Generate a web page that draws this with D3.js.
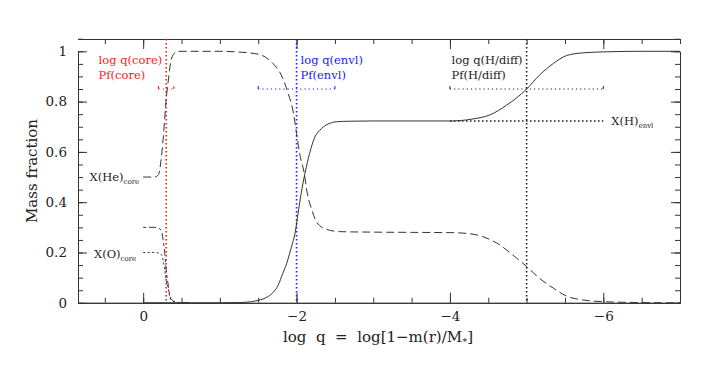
<!DOCTYPE html>
<html>
<head>
<meta charset="utf-8">
<script src="https://cdn.jsdelivr.net/npm/d3@7"></script>
<style>
  body { margin: 0; background: #fff; }
  svg text { font-family: "DejaVu Serif", serif; fill: #222; }
</style>
</head>
<body>
<div id="chart"></div>
<script>
// composition profiles (x = log q, y = mass fraction)
const hQ = [0, -1.0, -1.25, -1.4, -1.5, -1.6, -1.69, -1.76, -1.82, -1.87, -1.91, -1.95, -1.98, -2.02, -2.06, -2.11, -2.17, -2.24, -2.3, -2.35, -2.42, -2.52, -2.7, -3.0, -3.5, -4.0, -4.3, -4.52, -4.74, -5.0, -5.17, -5.35, -5.52, -5.74, -6.04, -6.5, -7.0];
const hX = [0, 0, 0.001, 0.004, 0.01, 0.02, 0.04, 0.07, 0.117, 0.155, 0.197, 0.24, 0.276, 0.356, 0.435, 0.515, 0.594, 0.66, 0.685, 0.70, 0.712, 0.72, 0.722, 0.723, 0.723, 0.723, 0.731, 0.747, 0.786, 0.85, 0.906, 0.952, 0.983, 0.994, 0.998, 1.0, 1.0];

const heQ = [0, -0.15, -0.2, -0.23, -0.26, -0.28, -0.3, -0.33, -0.36, -0.4, -0.45, -0.6, -1.0, -1.2, -1.4, -1.54, -1.69, -1.8, -1.89, -1.96, -2.0, -2.04, -2.1, -2.14, -2.2, -2.26, -2.39, -2.56, -3.0, -3.5, -4.0, -4.22, -4.43, -4.65, -4.82, -5.0, -5.17, -5.35, -5.52, -5.74, -6.04, -6.5, -7.0];
const heX = [0.5, 0.5, 0.51, 0.56, 0.65, 0.73, 0.81, 0.89, 0.96, 0.99, 1.0, 1.0, 1.0, 0.998, 0.993, 0.985, 0.952, 0.906, 0.833, 0.753, 0.674, 0.594, 0.515, 0.435, 0.369, 0.322, 0.292, 0.283, 0.281, 0.28, 0.279, 0.276, 0.263, 0.23, 0.19, 0.144, 0.097, 0.058, 0.027, 0.011, 0.004, 0.001, 0];

const cQ = [0, -0.15, -0.2, -0.24, -0.26, -0.28, -0.3, -0.33, -0.35, -0.39, -0.45, -0.6];
const cX = [0.3, 0.3, 0.297, 0.285, 0.25, 0.2, 0.13, 0.064, 0.024, 0.008, 0.001, 0];

const oQ = [0, -0.15, -0.2, -0.24, -0.26, -0.28, -0.3, -0.33, -0.35, -0.39, -0.45, -0.6];
const oX = [0.2, 0.2, 0.198, 0.19, 0.17, 0.13, 0.09, 0.05, 0.02, 0.006, 0.001, 0];

// transition markers: log q, profile value, half width of the Pf bar
const markerNames = ["core", "envl", "H/diff"];
const markerQ = [-0.3, -2.0, -5.0];
const markerPf = [0.85, 0.85, 0.85];
const markerHalf = [0.1, 0.5, 1.0];

const envlH = 0.723;
const coreHe = 0.5;
const coreO = 0.2;

const xTicks = [0, -2, -4, -6];
const yTicks = [0, 0.2, 0.4, 0.6, 0.8, 1];

const W = 718, H = 368;
const pLeft = 78, pRight = 680, pTop = 39, pBottom = 302.8;

const svg = d3.select("#chart").append("svg")
    .attr("width", W).attr("height", H);

const x = d3.scaleLinear().domain([0.85, -7]).range([pLeft, pRight]);
const y = d3.scaleLinear().domain([0, 1]).range([pBottom, pBottom - 251.5]);

const minorX = d3.range(0.5, -7.01, -0.5);
const minorY = d3.range(0, 1.06, 0.05);

function addAxis(gen, tr, vals, size, fmt, pad) {
    const g = svg.append("g").attr("transform", tr)
        .call(gen.tickValues(vals).tickSizeInner(-size).tickSizeOuter(0)
            .tickPadding(pad).tickFormat(fmt));
    g.selectAll("line").attr("stroke", "#333");
    g.select(".domain").attr("stroke", "#333");
    return g;
}

const none = () => "";
addAxis(d3.axisBottom(x), `translate(0,${pBottom})`, minorX, 5, none, 0);
addAxis(d3.axisTop(x), `translate(0,${pTop})`, minorX, 5, none, 0);
addAxis(d3.axisLeft(y), `translate(${pLeft},0)`, minorY, 5, none, 0);
addAxis(d3.axisRight(y), `translate(${pRight},0)`, minorY, 5, none, 0);

const xb = addAxis(d3.axisBottom(x), `translate(0,${pBottom})`, xTicks, 10, d3.format("d"), 9);
addAxis(d3.axisTop(x), `translate(0,${pTop})`, xTicks, 10, none, 0);
const yl = addAxis(d3.axisLeft(y), `translate(${pLeft},0)`, yTicks, 9,
    d => (d === 0 || d === 1) ? d3.format("d")(d) : d3.format(".1f")(d), 11);
addAxis(d3.axisRight(y), `translate(${pRight},0)`, yTicks, 9, none, 0);

[xb, yl].forEach(g => g.selectAll("text")
    .attr("fill", "#222").style("font-family", "DejaVu Serif").style("font-size", "13.5px"));

// markers
const markerColor = ["#ff1a1a", "#1a1aff", "#222"];
markerQ.forEach((q, i) => {
    svg.append("line")
        .attr("x1", x(q)).attr("x2", x(q))
        .attr("y1", pTop).attr("y2", pBottom)
        .attr("stroke", markerColor[i]).attr("stroke-width", 1.6)
        .attr("stroke-dasharray", "1.6,2.4");
    const x0 = x(q + markerHalf[i]), x1 = x(q - markerHalf[i]), yy = y(markerPf[i]);
    svg.append("line")
        .attr("x1", x0).attr("x2", x1).attr("y1", yy).attr("y2", yy)
        .attr("stroke", markerColor[i]).attr("stroke-width", 1)
        .attr("stroke-dasharray", "1.2,3");
    [x0, x1].forEach(xe => svg.append("line")
        .attr("x1", xe).attr("x2", xe).attr("y1", yy - 3).attr("y2", yy)
        .attr("stroke", markerColor[i]).attr("stroke-width", 1));

    // two-line label, left aligned; blocks left of the line end just before it
    const t = svg.append("text")
        .attr("font-size", 11.5)
        .style("fill", markerColor[i]);
    const l1 = t.append("tspan").attr("y", y(0.95)).text(`log  q(${markerNames[i]})`);
    const w = l1.node().getComputedTextLength();
    const tx = i === 1 ? x(q) + 4 : x(q) - 4 - w;
    l1.attr("x", tx);
    t.append("tspan").attr("x", tx).attr("y", y(0.95) + 15).text(`Pf(${markerNames[i]})`);
});

// envelope hydrogen level
svg.append("line")
    .attr("x1", x(-4)).attr("x2", x(-6))
    .attr("y1", y(envlH)).attr("y2", y(envlH))
    .attr("stroke", "#222").attr("stroke-width", 1.6)
    .attr("stroke-dasharray", "1.6,2.4");

function subLabel(tx, ty, main, sub, anchor) {
    const t = svg.append("text").attr("x", tx).attr("y", ty)
        .attr("font-size", 11.5).attr("text-anchor", anchor);
    t.append("tspan").text(main);
    t.append("tspan").attr("dy", 3).attr("font-size", 7).text(sub);
}
subLabel(x(-6) + 8, y(envlH) + 4, "X(H)", "envl", "start");
subLabel(x(0) - 4, y(coreHe) + 4, "X(He)", "core", "end");
subLabel(x(0) - 7, y(coreO) + 5, "X(O)", "core", "end");

// profiles
const line = d3.line().x(d => x(d[0])).y(d => y(d[1])).curve(d3.curveMonotoneX);
const zipQ = (q, v) => q.map((d, i) => [d, v[i]]);

svg.append("path").datum(zipQ(hQ, hX))
    .attr("d", line).attr("fill", "none").attr("stroke", "#333").attr("stroke-width", 1);
svg.append("path").datum(zipQ(heQ, heX))
    .attr("d", line).attr("fill", "none").attr("stroke", "#333").attr("stroke-width", 1)
    .attr("stroke-dasharray", "8,4");
svg.append("path").datum(zipQ(cQ, cX))
    .attr("d", line).attr("fill", "none").attr("stroke", "#333").attr("stroke-width", 1)
    .attr("stroke-dasharray", "3,3,7,3");
svg.append("path").datum(zipQ(oQ, oX))
    .attr("d", line).attr("fill", "none").attr("stroke", "#333").attr("stroke-width", 1)
    .attr("stroke-dasharray", "2,2.5");

// axis titles
const xt = svg.append("text")
    .attr("x", 378).attr("y", 342)
    .attr("text-anchor", "middle").attr("font-size", 15)
    .style("white-space", "pre");
xt.append("tspan").text("log  q  =  log[1−m(r)/M");
xt.append("tspan").attr("dy", 3).attr("font-size", 10).text("*");
xt.append("tspan").attr("dy", -3).text("]");

svg.append("text")
    .attr("transform", "translate(37,171) rotate(-90)")
    .attr("text-anchor", "middle").attr("font-size", 15)
    .text("Mass fraction");
</script>
</body>
</html>
